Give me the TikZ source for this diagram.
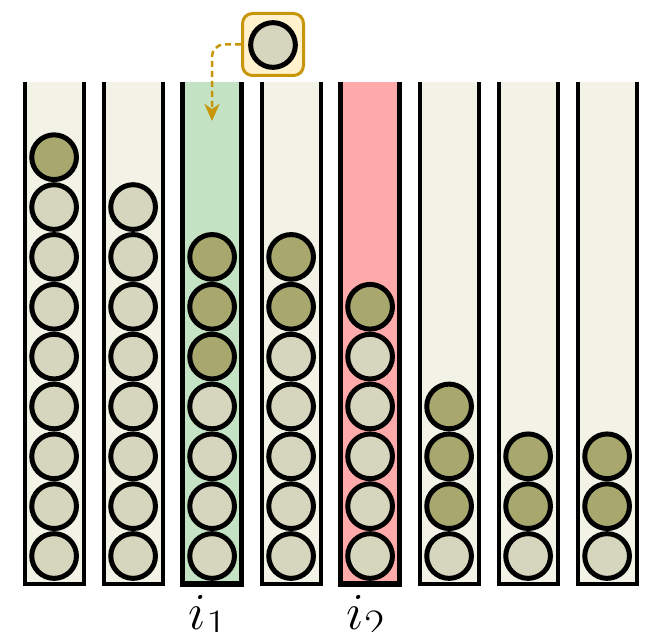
\documentclass[tikz,border=0pt]{standalone}
\usetikzlibrary{arrows.meta}
\definecolor{tubefill}{RGB}{242,243,230}
\definecolor{greenfill}{RGB}{196,227,196}
\definecolor{redfill}{RGB}{255,170,170}
\definecolor{lightball}{RGB}{214,214,190}
\definecolor{darkball}{RGB}{168,168,110}
\definecolor{boxfill}{RGB}{255,242,204}
\definecolor{gold}{RGB}{200,150,10}
\begin{document}
\begin{tikzpicture}[x=1pt,y=-1pt,
  ballL/.style={circle,draw=black,line width=5pt,minimum size=44.7pt,inner sep=0pt,fill=lightball},
  ballD/.style={ballL,fill=darkball},
  tubeline/.style={draw=black,line width=3.8pt,line cap=butt,line join=miter},
  tubehl/.style={tubeline,line width=5.5pt},
  labelstyle/.style={inner sep=0pt,font=\Huge,scale=2.09},
  holder/.style={draw=gold,fill=boxfill,line width=3pt,rounded corners=10pt,minimum width=61pt,minimum height=62pt,inner sep=0pt},
  droparrow/.style={draw=gold,line width=2.5pt,dash pattern=on 6pt off 4pt,rounded corners=12pt,-{Stealth[length=17pt,width=15pt,inset=5pt]}}
]
\useasboundingbox (0,0) rectangle (652,631);

% tubes: index / fill colour / line style
\foreach \i/\fc/\ls in {1/tubefill/tubeline,2/tubefill/tubeline,3/greenfill/tubehl,4/tubefill/tubeline,5/redfill/tubehl,6/tubefill/tubeline,7/tubefill/tubeline,8/tubefill/tubeline}{
  \pgfmathsetmacro{\cx}{54.1+79*(\i-1)}
  \fill[\fc] (\cx-29.5,82) rectangle (\cx+29.5,584);
  \draw[\ls] (\cx-29.5,82) -- (\cx-29.5,584) -- (\cx+29.5,584) -- (\cx+29.5,82);
  \coordinate (t\i) at (\cx,82);
}

% balls: tube / number of light / number of dark
\foreach \i/\nl/\nd in {1/8/1,2/8/0,3/4/3,4/5/2,5/5/1,6/1/3,7/1/2,8/1/2}{
  \pgfmathsetmacro{\cx}{54.1+79*(\i-1)}
  \foreach \k in {1,...,\nl}{
    \node[ballL] (b\i-\k) at (\cx,{556-49.85*(\k-1)}) {};
  }
  \ifnum\nd>0
  \foreach \k in {1,...,\nd}{
    \node[ballD] (d\i-\k) at (\cx,{556-49.85*(\nl+\k-1)}) {};
  }
  \fi
}

% holder with the ball to insert
\node[holder] (box) at (273,44.5) {};
\node[ballL] (newball) at (273,45) {};
\coordinate (tip) at (212,121);
\draw[droparrow] (box.west) -| (tip);

% labels
\node[labelstyle,anchor=base west] (li1) at (188.5,629) {$i_1$};
\node[labelstyle,anchor=base west] (li2) at (346.5,629) {$i_2$};
\end{tikzpicture}
\end{document}
